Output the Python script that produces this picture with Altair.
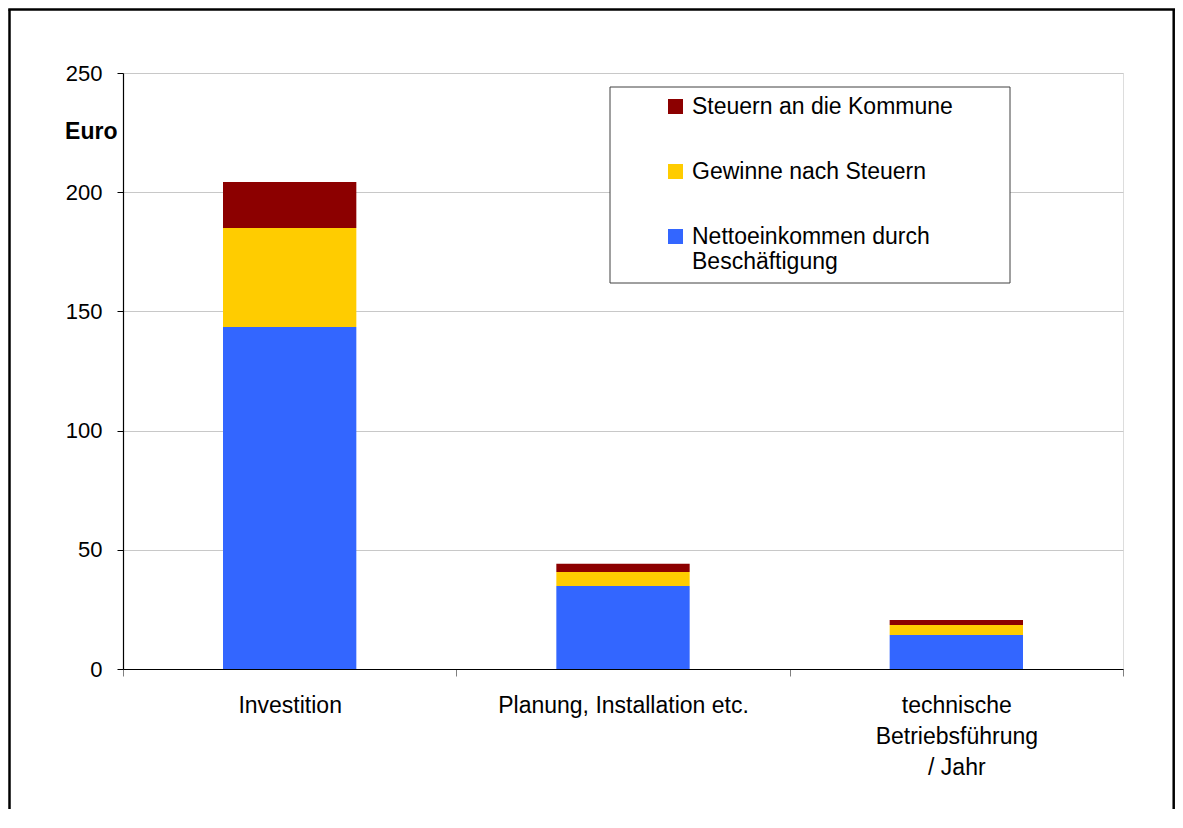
import altair as alt
import pandas as pd

categories = ["Investition", "Planung, Installation etc.", "technische|Betriebsführung|/ Jahr"]
series_names = ["Steuern an die Kommune", "Gewinne nach Steuern", "Nettoeinkommen durch Beschäftigung"]
netto = [143.5, 34.8, 14.3]
gewinne = [41.5, 5.9, 4.2]
steuern = [19.3, 3.4, 2.1]
colors = ["#8C0000", "#FFCC00", "#3366FF"]
y_ticks = [0, 50, 100, 150, 200, 250]

rows = []
for i, c in enumerate(categories):
    rows.append({"cat": c, "series": series_names[2], "value": netto[i], "ord": 0})
    rows.append({"cat": c, "series": series_names[1], "value": gewinne[i], "ord": 1})
    rows.append({"cat": c, "series": series_names[0], "value": steuern[i], "ord": 2})
df = pd.DataFrame(rows)

FONT = "Liberation Sans"

bars = alt.Chart(df).mark_bar(width=alt.RelativeBandSize(0.4)).encode(
    x=alt.X("cat:N", sort=categories, scale=alt.Scale(paddingInner=0, paddingOuter=0),
            axis=alt.Axis(title=None, labelAngle=0, labelExpr="split(datum.label, '|')",
                          labelFontSize=23, labelColor="black", labelFont=FONT,
                          labelLineHeight=31, labelPadding=18, labelLimit=400,
                          tickBand="extent", tickSize=7, tickColor="#808080",
                          domainColor="black", domainWidth=1.2, grid=False)),
    y=alt.Y("value:Q", stack="zero", scale=alt.Scale(domain=[0, 250], nice=False),
            axis=alt.Axis(values=y_ticks, title="Euro", titleAngle=0, titleAlign="right",
                          titleBaseline="middle", titleX=-6, titleY=58, titleFontSize=23,
                          titleFontWeight="bold", titleFont=FONT, titleColor="black",
                          labelFontSize=22, labelFont=FONT, labelColor="black",
                          labelPadding=15, tickSize=6, tickColor="black",
                          domainColor="black", domainWidth=1.2,
                          gridColor="#c8c8c8", gridWidth=1)),
    color=alt.Color("series:N", scale=alt.Scale(domain=series_names, range=colors),
                    legend=alt.Legend(title=None, orient="none", legendX=541, legendY=22,
                                      symbolType="square", symbolSize=225, symbolStrokeWidth=0,
                                      labelFontSize=23, labelFont=FONT, labelColor="black",
                                      labelOffset=5, rowPadding=41, labelLimit=400,
                                      labelExpr="datum.label == 'Nettoeinkommen durch Beschäftigung' ? ['Nettoeinkommen durch', 'Beschäftigung'] : datum.label",
                                      padding=0)),
    order=alt.Order("ord:Q"),
)

one = pd.DataFrame({"a": [0]})
FRAME_BOTTOM = 740
frame_top = alt.Chart(one).mark_rule(stroke="black", strokeWidth=2.5).encode(
    x=alt.value(-114.75), x2=alt.value(1052), y=alt.value(-63.5)
)
frame_left = alt.Chart(one).mark_rule(stroke="black", strokeWidth=2.5).encode(
    x=alt.value(-113.5), y=alt.value(-63.5), y2=alt.value(FRAME_BOTTOM)
)
frame_right = alt.Chart(one).mark_rule(stroke="black", strokeWidth=2.5).encode(
    x=alt.value(1050.7), y=alt.value(-63.5), y2=alt.value(FRAME_BOTTOM)
)
legend_box = alt.Chart(one).mark_rect(fill="white", stroke="#404040", strokeWidth=1).encode(
    x=alt.value(487), x2=alt.value(887), y=alt.value(14), y2=alt.value(210)
)

chart = alt.layer(frame_top, frame_left, frame_right, bars, legend_box).properties(
    width=1000, height=596,
    autosize=alt.AutoSizeParams(type="none"),
    padding={"left": 115, "top": 65, "right": 52, "bottom": 140},
).configure_view(stroke="#808080", strokeWidth=1).configure(background="white")

chart.save("out.html", embed_options={"renderer": "svg", "actions": False})
